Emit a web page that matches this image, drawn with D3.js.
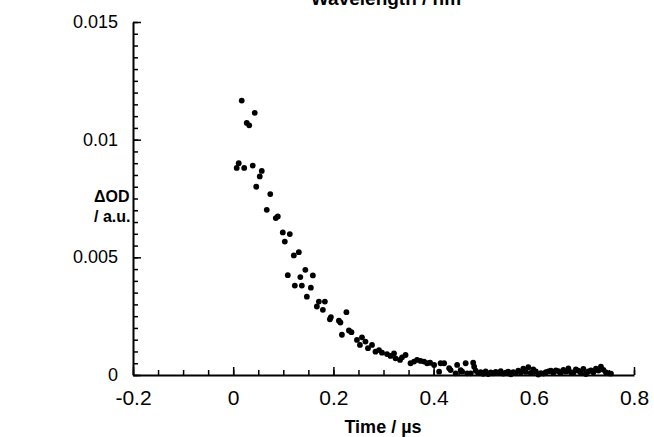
<!DOCTYPE html>
<html>
<head>
<meta charset="utf-8">
<script src="https://cdn.jsdelivr.net/npm/d3@7"></script>
<style>
  body { margin: 0; background: #fff; }
  svg { display: block; font-family: Arial, "Liberation Sans", sans-serif; }
</style>
</head>
<body>
<svg id="chart" width="654" height="437"></svg>
<script>
// time in microseconds
var timeUs = [
  0.007, 0.011, 0.017, 0.022, 0.027, 0.032, 0.039, 0.043, 0.046, 0.053,
  0.057, 0.067, 0.074, 0.085, 0.089, 0.099, 0.103, 0.109, 0.113, 0.121,
  0.123, 0.131, 0.134, 0.137, 0.144, 0.147, 0.155, 0.159, 0.167, 0.171,
  0.179, 0.183, 0.193, 0.195, 0.211, 0.214, 0.217, 0.226, 0.231, 0.236,
  0.247, 0.253, 0.257, 0.264, 0.269, 0.277, 0.284, 0.291, 0.297, 0.307,
  0.314, 0.321, 0.324, 0.333, 0.337, 0.344, 0.354, 0.361, 0.367, 0.374,
  0.381, 0.387, 0.393, 0.401, 0.411, 0.414, 0.421, 0.431, 0.434, 0.444,
  0.447, 0.454, 0.457, 0.464, 0.467, 0.474, 0.479, 0.481, 0.484, 0.489,
  0.494, 0.499, 0.504, 0.509, 0.514, 0.519, 0.524, 0.529, 0.534, 0.539,
  0.544, 0.549, 0.554, 0.559, 0.564, 0.569, 0.574, 0.579, 0.584, 0.589,
  0.594, 0.599, 0.604, 0.609, 0.614, 0.619, 0.624, 0.629, 0.634, 0.639,
  0.644, 0.649, 0.654, 0.659, 0.664, 0.669, 0.674, 0.679, 0.684, 0.689,
  0.694, 0.699, 0.704, 0.709, 0.714, 0.719, 0.724, 0.729, 0.734, 0.739,
  0.744, 0.749, 0.754
];
// delta OD, a.u.
var deltaOD = [
  0.0088, 0.0090, 0.01166, 0.0088, 0.01071, 0.01061, 0.0089, 0.01114, 0.0080, 0.00844,
  0.00867, 0.00702, 0.00769, 0.00667, 0.00674, 0.00606, 0.00567, 0.00424, 0.00599, 0.00508,
  0.0038, 0.00522, 0.00416, 0.0038, 0.00447, 0.00333, 0.00371, 0.00423, 0.00291, 0.00312,
  0.00277, 0.00312, 0.00237, 0.00246, 0.00231, 0.00223, 0.00171, 0.00267, 0.00189, 0.00182,
  0.00149, 0.00128, 0.0016, 0.00142, 0.00114, 0.00128, 0.00099, 0.00106, 0.00095, 0.00089,
  0.00081, 0.00092, 0.00071, 0.00064, 0.00075, 0.00085, 0.0005, 0.00057, 0.00064, 0.0006,
  0.00057, 0.0005, 0.00052, 0.00043, 0.00014, 0.0005, 0.0005, 0.00029, 0.00021, 0.00007,
  0.00043, 0.00021, 0.00014, 0.0005, 0.00007, 0.00007, 0.00052, 0.00035, 0.00018, 0.00008,
  0.00012, 0.00005, 0.00015, 0.00004, 0.00011, 0.00007, 0.00013, 0.00009, 0.00016, 0.00006,
  0.0001, 0.00014, 0.00003, 0.00012, 0.00008, 0.00019, 0.00011, 0.00027, 0.00013, 0.00033,
  0.00009, 0.00024, 0.00015, 0.00002, 0.00008, 0.00006, 0.00012, 0.00015, 0.00018, 0.0001,
  0.0002, 0.00016, 0.00008, 0.00022, 0.00014, 0.00028, 0.00012, 0.0001, 0.00024, 0.00018,
  0.00009, 0.00026, 0.00004, 0.00015, 0.0002, 0.00012, 0.00027, 0.00019, 0.00036, 0.00022,
  0.00011, 0.00007, 0.00006
];
var xTickLabels = [-0.2, 0, 0.2, 0.4, 0.6, 0.8];
var yTickLabels = [0, 0.005, 0.01, 0.015];

var svg = d3.select("#chart");
var margin = {top: 22, right: 20, bottom: 62, left: 133};
var width = 634 - margin.left, height = 375 - margin.top;

var x = d3.scaleLinear().domain([-0.2, 0.8]).range([0, width]);
var y = d3.scaleLinear().domain([0, 0.015]).range([height, 0]);

var g = svg.append("g").attr("transform", "translate(" + margin.left + "," + margin.top + ")");

// minor ticks first, then major axes on top
g.append("g")
  .attr("transform", "translate(0," + height + ")")
  .call(d3.axisBottom(x).tickValues(d3.range(-0.2, 0.8001, 0.05)).tickSizeInner(-5).tickSizeOuter(0).tickFormat(""))
  .call(a => a.select(".domain").remove());
g.append("g")
  .call(d3.axisLeft(y).tickValues(d3.range(0, 0.01501, 0.0005)).tickSizeInner(-5).tickSizeOuter(0).tickFormat(""))
  .call(a => a.select(".domain").remove());

// plain hyphen for negatives, like the original
var xAxis = g.append("g")
  .attr("transform", "translate(0," + height + ")")
  .call(d3.axisBottom(x).tickValues(xTickLabels).tickSizeInner(-8).tickSizeOuter(0)
    .tickPadding(15).tickFormat(d => String(d)));
var yAxis = g.append("g")
  .call(d3.axisLeft(y).tickValues(yTickLabels).tickSizeInner(-8).tickSizeOuter(0)
    .tickPadding(15).tickFormat(d => String(d)));

xAxis.attr("font-size", 21);
yAxis.attr("font-size", 18);
[xAxis, yAxis].forEach(function(a){
  a.attr("font-family", "Arial, 'Liberation Sans', sans-serif");
  a.selectAll("text").attr("fill", "#000");
});
yAxis.selectAll("text").attr("dy", "0.3em");
g.selectAll(".tick line").attr("stroke", "#000").attr("stroke-width", 1.5);
g.selectAll(".domain").attr("stroke", "#000").attr("stroke-width", 2);

g.append("g").selectAll("circle")
  .data(timeUs.map((t, i) => ({t: t, v: deltaOD[i]})))
  .enter().append("circle")
    .attr("cx", d => x(d.t))
    .attr("cy", d => y(d.v))
    .attr("r", 2.9)
    .attr("fill", "#000");

svg.append("text").attr("x", 386).attr("y", 5).attr("text-anchor", "middle")
  .attr("font-size", 19).attr("font-weight", "bold").text("Wavelength / nm");
svg.append("text").attr("x", 383).attr("y", 433).attr("text-anchor", "middle")
  .attr("font-size", 18).attr("font-weight", "bold").text("Time / µs");
svg.append("text").attr("x", 94).attr("y", 202)
  .attr("font-size", 16).attr("font-weight", "bold").text("ΔOD");
svg.append("text").attr("x", 94).attr("y", 222)
  .attr("font-size", 16).attr("font-weight", "bold").text("/ a.u.");
</script>
</body>
</html>
